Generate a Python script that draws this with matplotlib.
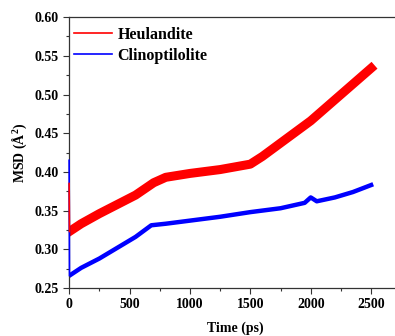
import matplotlib.pyplot as plt
from matplotlib.ticker import MultipleLocator

plt.rcParams['font.family'] = ['Liberation Serif', 'DejaVu Serif']
plt.rcParams['font.weight'] = 'bold'
plt.rcParams['mathtext.fontset'] = 'custom'
plt.rcParams['mathtext.rm'] = 'Liberation Serif:bold'

# values
heu_time = [0, 3, 100, 250, 400, 550, 700, 800, 1000, 1250, 1500, 1600, 1800, 2000, 2250, 2500]
heu_msd = [0.385, 0.323, 0.333, 0.346, 0.358, 0.370, 0.386, 0.393, 0.398, 0.403, 0.410, 0.420, 0.443, 0.466, 0.500, 0.534]

cli_time = [0, 3, 100, 250, 400, 550, 680, 800, 1000, 1250, 1500, 1750, 1950, 2000, 2050, 2200, 2350, 2500]
cli_msd = [0.415, 0.266, 0.276, 0.288, 0.302, 0.316, 0.331, 0.333, 0.337, 0.342, 0.348, 0.353, 0.360, 0.367, 0.362, 0.367, 0.374, 0.383]

fig = plt.figure(figsize=(3.95, 3.36), dpi=100)
ax = fig.add_axes([0.175, 0.143, 0.841, 0.806])

# first sample of each run is a thin spike, the rest a thick noisy band
ax.plot(cli_time[:2], cli_msd[:2], color='#0000ff', linewidth=1.2, zorder=5, clip_on=False)
ax.plot(heu_time[:2], heu_msd[:2], color='#ff0000', linewidth=1.2, zorder=6, clip_on=False)
ax.plot(heu_time[1:], heu_msd[1:], color='#ff0000', linewidth=6.5, label='Heulandite')
ax.plot(cli_time[1:], cli_msd[1:], color='#0000ff', linewidth=3.2, label='Clinoptilolite')

ax.set_xlim(0, 2750)
ax.set_ylim(0.25, 0.60)
ax.xaxis.set_major_locator(MultipleLocator(500))
ax.xaxis.set_minor_locator(MultipleLocator(250))
ax.yaxis.set_major_locator(MultipleLocator(0.05))
ax.yaxis.set_minor_locator(MultipleLocator(0.025))
ax.yaxis.set_major_formatter(plt.FormatStrFormatter('%.2f'))
ax.tick_params(which='both', direction='out', top=False, right=False,
               labelsize=10, width=0.8, color='#333333')
ax.tick_params(which='major', length=4)
ax.tick_params(which='minor', length=2.5)
ax.spines['right'].set_visible(False)
for s in ['left', 'bottom', 'top']:
    ax.spines[s].set_color('#333333')
    ax.spines[s].set_linewidth(0.9)

ax.set_xlabel('Time (ps)', fontsize=10, fontweight='bold', labelpad=7)
ax.set_ylabel('MSD (Å$^{2}$)', fontsize=10, fontweight='bold', labelpad=4)

leg = ax.legend(loc='upper left', bbox_to_anchor=(-0.013, 0.997), frameon=False,
                fontsize=11.5, handlelength=2.4, borderaxespad=0, borderpad=0.55,
                labelspacing=0.3, handletextpad=0.35)
for line in leg.get_lines():
    line.set_linewidth(1.2)

fig.savefig('out.png', dpi=100, facecolor='white')
